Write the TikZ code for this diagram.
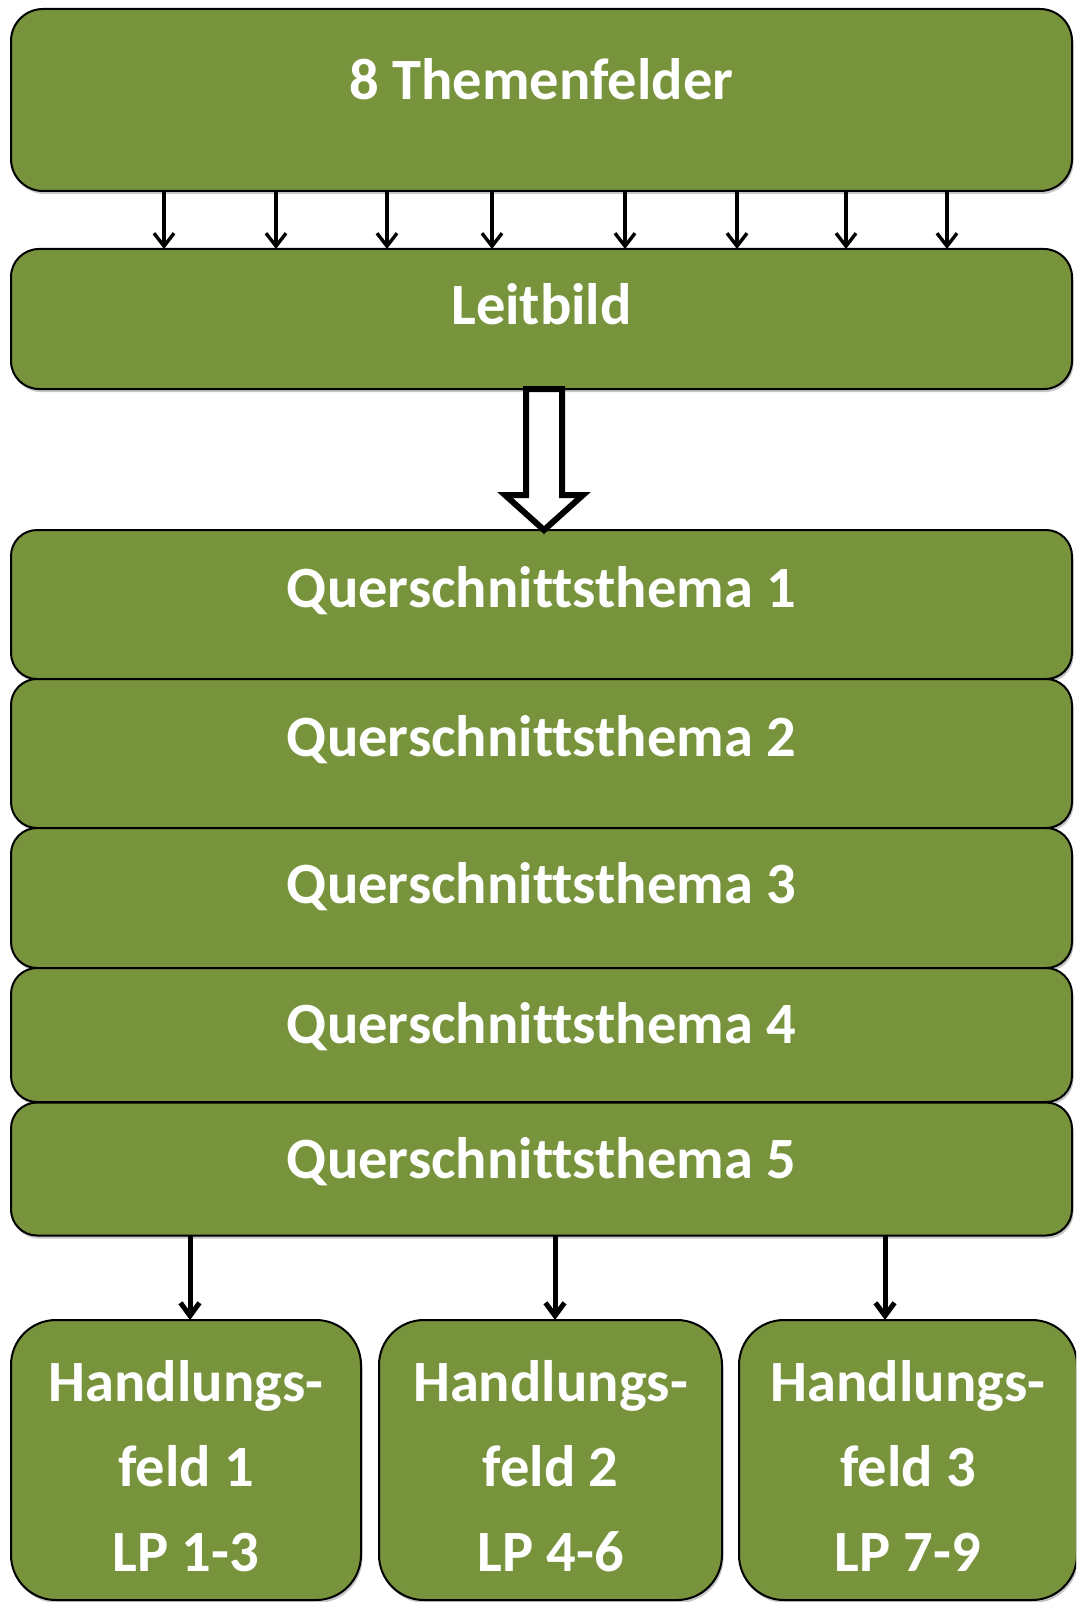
\documentclass[tikz,border=0pt]{standalone}
\usepackage{fontspec}
\setmainfont[Ligatures={NoCommon,NoRare},Contextuals=NoAlternate]{Carlito}
\usetikzlibrary{arrows.meta,shadows}
\definecolor{olive}{HTML}{77933C}
\tikzset{
  gbox/.style={draw=black, line width=2pt, fill=olive, rectangle, inner sep=0pt, outer sep=0pt,
    drop shadow={shadow xshift=1.5pt, shadow yshift=-3pt, opacity=0.22, fill=black}},
  btext/.style={text=white, font=\bfseries\fontsize{58.5}{85}\selectfont, inner sep=0pt, anchor=base},
  smallarr/.style={line width=3.4pt, -{Straight Barb[length=13pt,width=20pt]}},
  bigarr/.style={line width=5pt, -{Straight Barb[length=13pt,width=19pt]}},
}
\begin{document}
\begin{tikzpicture}[x=1pt,y=-1pt]
\useasboundingbox (0,0) rectangle (1076,1602);
\clip (0,0) rectangle (1076,1602);
% boxes
\node[gbox, rounded corners=32pt, minimum width=1061pt, minimum height=182pt] (tf) at (541.5,100) {};
\node[gbox, rounded corners=28pt, minimum width=1061pt, minimum height=140pt] (lb) at (541.5,319) {};
\node[gbox, rounded corners=26pt, minimum width=1061pt, minimum height=149pt] (q1) at (541.5,604.5) {};
\node[gbox, rounded corners=26pt, minimum width=1061pt, minimum height=149pt] (q2) at (541.5,753.5) {};
\node[gbox, rounded corners=26pt, minimum width=1061pt, minimum height=140pt] (q3) at (541.5,898) {};
\node[gbox, rounded corners=26pt, minimum width=1061pt, minimum height=134pt] (q4) at (541.5,1035) {};
\node[gbox, rounded corners=26pt, minimum width=1061pt, minimum height=133pt] (q5) at (541.5,1169) {};
\node[gbox, rounded corners=45pt, minimum width=350pt, minimum height=280pt] (h1) at (186,1460) {};
\node[gbox, rounded corners=45pt, minimum width=343pt, minimum height=280pt] (h2) at (550.5,1460) {};
\node[gbox, rounded corners=45pt, minimum width=338pt, minimum height=280pt] (h3) at (908,1460) {};
% texts
\node[btext] (tft) at (541.5,100) {8 Themenfelder};
\node[btext] (lbt) at (541.5,324) {Leitbild};
\node[btext] (q1t) at (541.5,607) {Querschnittsthema 1};
\node[btext] (q2t) at (541.5,756) {Querschnittsthema 2};
\node[btext] (q3t) at (541.5,903) {Querschnittsthema 3};
\node[btext] (q4t) at (541.5,1043) {Querschnittsthema 4};
\node[btext] (q5t) at (541.5,1178) {Querschnittsthema 5};
\foreach \n/\x/\k in {a/186/1, b/550.5/2, c/908/3}{
  \node[btext] (h\n1) at (\x,1401) {Handlungs-};
  \node[btext] (h\n2) at (\x,1486) {feld \k};
}
\node[btext] (ha3) at (186,1571) {LP 1-3};
\node[btext] (hb3) at (550.5,1571) {LP 4-6};
\node[btext] (hc3) at (908,1571) {LP 7-9};
% small arrows
\foreach \x in {164,276,387,492,625,737,846,947}{
  \draw[smallarr] (\x,0 |- tf.south) -- (\x,0 |- lb.north);
}
% bottom arrows
\draw[bigarr] (190,0 |- q5.south) -- (190,0 |- h1.north);
\draw[bigarr] (555,0 |- q5.south) -- (555,0 |- h2.north);
\draw[bigarr] (885,0 |- q5.south) -- (885,0 |- h3.north);
% hollow arrow
\draw[line width=6pt, fill=white, miter limit=10] (526,0 |- lb.south) -- (562,0 |- lb.south) -- (562,495) -- (583,495) -- (544,0 |- q1.north) -- (505,495) -- (526,495) -- cycle;
\end{tikzpicture}
\end{document}
